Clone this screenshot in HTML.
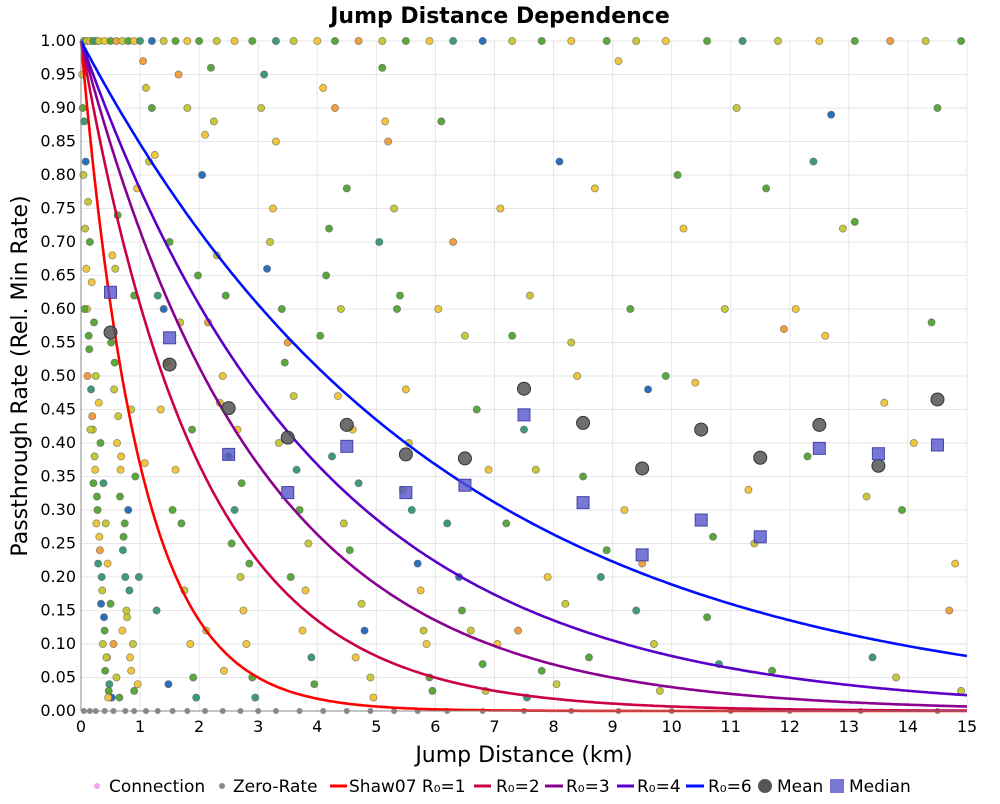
<!DOCTYPE html>
<html><head><meta charset="utf-8"><style>
body{margin:0;background:#fff;font-family:"DejaVu Sans","Liberation Sans",sans-serif}
svg text{font-family:"DejaVu Sans","Liberation Sans",sans-serif}
</style></head><body>
<svg id="chart" width="1000" height="800"></svg>
<script>
const xTicks=[0,1,2,3,4,5,6,7,8,9,10,11,12,13,14,15];
const yTicks=[0,0.05,0.1,0.15,0.2,0.25,0.3,0.35,0.4,0.45,0.5,0.55,0.6,0.65,0.7,0.75,0.8,0.85,0.9,0.95,1.0];
const r0Values=[1,2,3,4,6];
const r0Colors=["#ff0000","#cc0044","#8a0090","#5a00c8","#0010ff"];
const binCenters=[0.5,1.5,2.5,3.5,4.5,5.5,6.5,7.5,8.5,9.5,10.5,11.5,12.5,13.5,14.5];
const meanValues=[0.565,0.517,0.452,0.408,0.427,0.383,0.377,0.481,0.43,0.362,0.42,0.378,0.427,0.366,0.465];
const medianValues=[0.625,0.557,0.383,0.326,0.395,0.326,0.337,0.442,0.311,0.233,0.285,0.26,0.392,0.384,0.397];
const dotX=[0.05,0.1,0.15,0.2,0.25,0.3,0.4,0.5,0.6,0.7,0.8,0.9,1.0,1.2,1.4,1.6,1.8,2.0,2.3,2.6,2.9,3.3,3.6,4.0,4.3,4.7,5.1,5.5,5.9,6.3,6.8,7.3,7.8,8.3,8.9,9.4,9.9,10.6,11.2,11.8,12.5,13.1,13.7,14.3,14.9,
0.02,0.05,0.08,0.12,0.15,0.18,0.22,0.25,0.3,0.33,0.38,0.42,0.45,0.5,0.55,0.6,0.65,0.7,0.75,0.8,0.85,0.9,0.95,
0.03,0.07,0.1,0.14,0.17,0.2,0.24,0.28,0.32,0.36,0.4,0.44,0.48,0.52,0.58,0.62,0.68,0.72,0.78,0.85,0.92,0.98,
0.04,0.09,0.13,0.19,0.23,0.27,0.31,0.35,0.39,0.43,0.47,0.53,0.57,0.63,0.67,0.74,0.82,0.88,0.96,
0.06,0.11,0.16,0.21,0.26,0.29,0.34,0.37,0.41,0.46,0.51,0.56,0.61,0.66,0.71,0.77,0.83,0.9,
1.05,1.1,1.2,1.25,1.3,1.4,1.45,1.55,1.6,1.7,1.75,1.85,1.9,1.95,1.15,1.35,1.5,1.65,1.8,1.98,1.08,1.28,1.48,1.68,1.88,
2.1,2.2,2.3,2.4,2.5,2.6,2.7,2.8,2.9,2.15,2.35,2.55,2.75,2.95,2.05,2.25,2.45,2.65,2.85,2.12,2.42,2.72,
3.1,3.2,3.3,3.4,3.5,3.6,3.7,3.8,3.9,3.15,3.35,3.55,3.75,3.95,3.05,3.25,3.45,3.65,3.85,
4.1,4.2,4.3,4.4,4.5,4.6,4.7,4.8,4.9,4.15,4.35,4.55,4.75,4.95,4.05,4.25,4.45,4.65,
5.1,5.2,5.3,5.4,5.5,5.6,5.7,5.8,5.9,5.15,5.35,5.55,5.75,5.95,5.05,5.45,5.85,
6.1,6.3,6.5,6.7,6.9,6.2,6.4,6.6,6.8,6.05,6.45,6.85,
7.1,7.3,7.5,7.7,7.9,7.2,7.4,7.6,7.8,7.05,7.55,
8.1,8.3,8.5,8.7,8.9,8.2,8.4,8.6,8.8,8.05,
9.1,9.3,9.5,9.7,9.9,9.2,9.4,9.6,9.8,
10.1,10.4,10.7,10.9,10.2,10.6,10.8,11.1,11.3,11.6,11.9,11.4,11.7,
12.1,12.4,12.7,12.9,12.3,12.6,13.1,13.3,13.6,13.9,13.4,13.8,14.1,14.4,14.7,14.9,14.5,14.8];
const dotY=[1,1,1,1,1,1,1,1,1,1,1,1,1,1,1,1,1,1,1,1,1,1,1,1,1,1,1,1,1,1,1,1,1,1,1,1,1,1,1,1,1,1,1,1,1,
0.95,0.88,0.82,0.76,0.7,0.64,0.58,0.5,0.46,0.4,0.34,0.28,0.22,0.16,0.1,0.05,0.02,0.12,0.2,0.3,0.45,0.62,0.78,
0.9,0.72,0.6,0.54,0.48,0.42,0.36,0.3,0.24,0.18,0.12,0.08,0.04,0.02,0.66,0.74,0.38,0.26,0.14,0.06,0.35,0.2,
0.8,0.66,0.56,0.44,0.38,0.32,0.26,0.2,0.14,0.08,0.03,0.68,0.52,0.44,0.36,0.28,0.18,0.1,0.04,
0.6,0.5,0.42,0.34,0.28,0.22,0.16,0.1,0.06,0.02,0.55,0.48,0.4,0.32,0.24,0.15,0.08,0.03,
0.97,0.93,0.9,0.83,0.62,0.6,0.52,0.3,0.36,0.28,0.18,0.1,0.05,0.02,0.82,0.45,0.7,0.95,0.9,0.65,0.37,0.15,0.04,0.58,0.42,
0.86,0.96,0.68,0.5,0.38,0.3,0.2,0.1,0.05,0.58,0.46,0.25,0.15,0.02,0.8,0.88,0.62,0.42,0.22,0.12,0.06,0.34,
0.95,0.7,0.85,0.6,0.55,0.47,0.3,0.18,0.08,0.66,0.4,0.2,0.12,0.04,0.9,0.75,0.52,0.36,0.25,
0.93,0.72,0.9,0.6,0.78,0.42,0.34,0.12,0.05,0.65,0.47,0.24,0.16,0.02,0.56,0.38,0.28,0.08,
0.96,0.85,0.75,0.62,0.48,0.3,0.22,0.12,0.05,0.88,0.6,0.4,0.18,0.03,0.7,0.33,0.1,
0.88,0.7,0.56,0.45,0.36,0.28,0.2,0.12,0.07,0.6,0.15,0.03,
0.75,0.56,0.42,0.36,0.2,0.28,0.12,0.62,0.06,0.1,0.02,
0.82,0.55,0.35,0.78,0.24,0.16,0.5,0.08,0.2,0.04,
0.97,0.6,0.22,0.1,0.5,0.3,0.15,0.48,0.03,
0.8,0.49,0.26,0.6,0.72,0.14,0.07,0.9,0.33,0.78,0.57,0.25,0.06,
0.6,0.82,0.89,0.72,0.38,0.56,0.73,0.32,0.46,0.3,0.08,0.05,0.4,0.58,0.15,0.03,0.9,0.22];
const dotColorIdx=[];
const palette=["#5aa83c","#c8c83a","#f2c63c","#f0a040","#3e9a78","#2a70b8"];
for(let i=0;i<dotX.length;i++){dotColorIdx.push([0,1,2,0,4,1,2,0,3,1,0,2,4,5,1,0,2][i%17]);}
const zeroX=[0.05,0.15,0.25,0.4,0.55,0.75,0.9,1.1,1.3,1.55,1.8,2.1,2.4,2.7,3.0,3.3,3.7,4.1,4.5,4.9,5.3,5.7,6.2,6.8,7.5,8.3,9.1,10,11,12,13.2,14.5];

const L=81,R=967,T=41,B=711;
const xs=v=>L+(v/15)*(R-L), ys=v=>B-v*(B-T);
const svg=document.getElementById('chart');const NS="http://www.w3.org/2000/svg";
function el(tag,attrs,parent){const e=document.createElementNS(NS,tag);for(const k in attrs)e.setAttribute(k,attrs[k]);(parent||svg).appendChild(e);return e;}
let e;
e=el('rect',{x:L,y:T,width:R-L,height:B-T,fill:'#fff'});


const grid=el('g',{stroke:'#e6e6e6','stroke-width':1});


xTicks.forEach(t=>el('line',{x1:xs(t),x2:xs(t),y1:T,y2:B},grid));
yTicks.forEach(t=>el('line',{x1:L,x2:R,y1:ys(t),y2:ys(t)},grid));
const dots=el('g',{'stroke-width':0.8});


for(let i=0;i<dotX.length;i++){const c=palette[dotColorIdx[i]];
 const d=el('circle',{cx:xs(dotX[i]),cy:ys(dotY[i]),r:3.6,fill:c,stroke:'#555','stroke-opacity':0.6},dots);
 
 }
zeroX.forEach(x=>{const d=el('circle',{cx:xs(x),cy:ys(0),r:3,fill:'#888'},dots);
 
 });
r0Values.forEach((r0,k)=>{let p='';for(let i=0;i<=300;i++){const x=15*i/300;p+=(i?'L':'M')+xs(x).toFixed(1)+','+ys(Math.exp(-x/r0)).toFixed(1);}
 const c=el('path',{d:p,fill:'none',stroke:r0Colors[k],'stroke-width':2.6});
 
 });
binCenters.forEach((x,i)=>{const m=el('circle',{cx:xs(x),cy:ys(meanValues[i]),r:6.5,fill:'#555','fill-opacity':0.85,stroke:'#333'});
 
 
 const q=el('rect',{x:xs(x)-6,y:ys(medianValues[i])-6,width:12,height:12,fill:'#5555cc','fill-opacity':0.8,stroke:'#4444aa'});
 
 });
e=el('line',{x1:L,x2:L,y1:T,y2:B,stroke:'#888'});


e=el('line',{x1:L,x2:R,y1:B,y2:B,stroke:'#888'});


xTicks.forEach(t=>{const tx=el('text',{x:xs(t),y:B+21,'text-anchor':'middle','font-size':16,fill:'#000'});tx.textContent=t;
 
 });
yTicks.forEach(t=>{const tx=el('text',{x:L-5,y:ys(t)+5,'text-anchor':'end','font-size':16,fill:'#000'});tx.textContent=t.toFixed(2);
 
 });
e=el('text',{x:500,y:23,'text-anchor':'middle','font-size':22,'font-weight':'bold'});e.textContent='Jump Distance Dependence';


e=el('text',{x:524,y:762,'text-anchor':'middle','font-size':22});e.textContent='Jump Distance (km)';


e=el('text',{x:0,y:0,'text-anchor':'middle','font-size':22,transform:'translate(27,376) rotate(-90)'});e.textContent='Passthrough Rate (Rel. Min Rate)';


const lg=el('g',{'font-size':17});


function lt(x,s){const t=el('text',{x:x,y:792},lg);t.textContent=s;}
el('circle',{cx:97,cy:786,r:3,fill:'#f8a0f0'},lg);lt(109,'Connection');
el('circle',{cx:222,cy:786,r:3,fill:'#888'},lg);lt(233,'Zero-Rate');
el('line',{x1:330,x2:347,y1:786,y2:786,stroke:'#ff0000','stroke-width':3},lg);lt(349,'Shaw07 R\u2080=1');
el('line',{x1:474,x2:491,y1:786,y2:786,stroke:'#cc0044','stroke-width':3},lg);lt(496,'R\u2080=2');
el('line',{x1:545,x2:563,y1:786,y2:786,stroke:'#8a0090','stroke-width':3},lg);lt(566,'R\u2080=3');
el('line',{x1:617,x2:634,y1:786,y2:786,stroke:'#5a00c8','stroke-width':3},lg);lt(637,'R\u2080=4');
el('line',{x1:686,x2:704,y1:786,y2:786,stroke:'#0010ff','stroke-width':3},lg);lt(708,'R\u2080=6');
el('circle',{cx:765,cy:786,r:7,fill:'#555'},lg);lt(777,'Mean');
el('rect',{x:830,y:779,width:14,height:14,fill:'#5555cc','fill-opacity':0.8},lg);lt(849,'Median');
</script>
</body></html>
